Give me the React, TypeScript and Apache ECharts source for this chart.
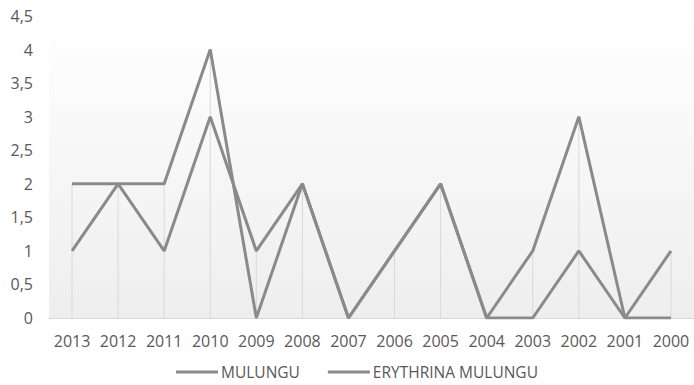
import React, { useEffect, useRef } from "react";
import * as echarts from "echarts";

// Yearly counts per name, newest year first
const years = ["2013", "2012", "2011", "2010", "2009", "2008", "2007", "2006", "2005", "2004", "2003", "2002", "2001", "2000"];
const mulungu = [2, 2, 2, 4, 0, 2, 0, 1, 2, 0, 1, 3, 0, 0];
const erythrinaMulungu = [1, 2, 1, 3, 1, 2, 0, 1, 2, 0, 0, 1, 0, 1];
const seriesNames = ["MULUNGU", "ERYTHRINA MULUNGU"];

const LINE_COLOR = "#8a8a8a";
const TEXT_COLOR = "#595959";
const FONT = "'Open Sans', 'Noto Sans', sans-serif";

export default function App() {
  const ref = useRef<HTMLDivElement>(null);

  useEffect(() => {
    document.body.style.margin = "0";
    if (!ref.current) return;
    const chart = echarts.init(ref.current, null, { renderer: "svg" });

    // drop lines run from the higher of the two values down to the axis
    const dropTops = years.map((_, i) => Math.max(mulungu[i], erythrinaMulungu[i]));

    chart.setOption({
      animation: false,
      grid: {
        left: 49,
        right: 0,
        top: 16,
        bottom: 67,
        show: true,
        borderWidth: 0,
        backgroundColor: {
          type: "linear",
          x: 0,
          y: 0,
          x2: 0,
          y2: 1,
          colorStops: [
            { offset: 0, color: "#ffffff" },
            { offset: 1, color: "#eeeeee" },
          ],
        },
      },
      legend: {
        top: 364,
        left: 176,
        padding: 0,
        icon: "rect",
        itemWidth: 42,
        itemHeight: 3,
        itemGap: 28,
        data: seriesNames,
        textStyle: {
          color: TEXT_COLOR,
          fontSize: 15.5,
          lineHeight: 16,
          fontFamily: FONT,
          padding: [0, 0, 0, -2],
        },
      },
      xAxis: {
        type: "category",
        data: years,
        boundaryGap: true,
        axisLine: { show: true, lineStyle: { color: "#d9d9d9", width: 1 } },
        axisTick: { show: false },
        splitLine: { show: false },
        axisLabel: { color: TEXT_COLOR, fontSize: 16, fontFamily: FONT, margin: 15, interval: 0 },
      },
      yAxis: {
        type: "value",
        min: 0,
        max: 4.5,
        interval: 0.5,
        axisLine: { show: false },
        axisTick: { show: false },
        splitLine: { show: false },
        axisLabel: {
          color: TEXT_COLOR,
          fontSize: 16,
          fontFamily: FONT,
          margin: 16,
          formatter: (v: number) => String(v).replace(".", ","),
        },
      },
      series: [
        {
          type: "custom",
          name: "drop",
          silent: true,
          z: 1,
          data: dropTops.map((v, i) => [i, v]),
          renderItem: (params: any, api: any) => {
            const i = api.value(0);
            const top = api.coord([i, api.value(1)]);
            const bottom = api.coord([i, 0]);
            return {
              type: "line",
              shape: { x1: top[0], y1: top[1], x2: bottom[0], y2: bottom[1] },
              style: { stroke: "#d9d9d9", lineWidth: 1 },
            };
          },
        },
        {
          type: "line",
          name: seriesNames[0],
          data: mulungu,
          z: 3,
          showSymbol: false,
          symbol: "none",
          lineStyle: { color: LINE_COLOR, width: 3 },
          itemStyle: { color: LINE_COLOR },
        },
        {
          type: "line",
          name: seriesNames[1],
          data: erythrinaMulungu,
          z: 3,
          showSymbol: false,
          symbol: "none",
          lineStyle: { color: LINE_COLOR, width: 3 },
          itemStyle: { color: LINE_COLOR },
        },
      ],
    });

    return () => chart.dispose();
  }, []);

  return <div ref={ref} style={{ width: 694, height: 385 }} />;
}
